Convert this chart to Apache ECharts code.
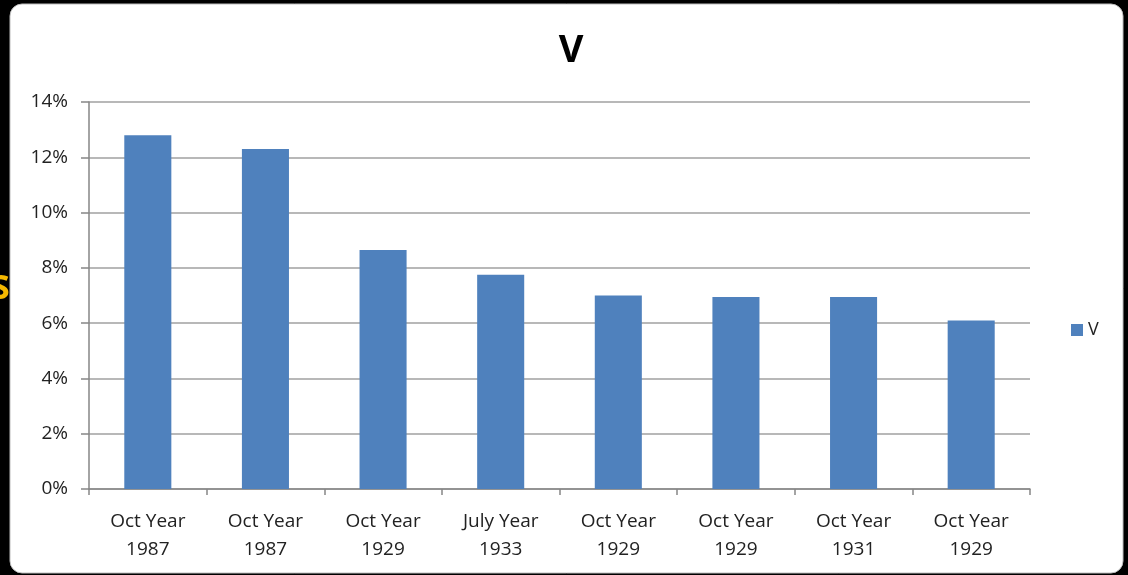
<!DOCTYPE html>
<html><head><meta charset="utf-8">
<script src="https://cdn.jsdelivr.net/npm/echarts@6/dist/echarts.min.js"></script>
<style>html,body{margin:0;padding:0;background:#000;}#c{width:1128px;height:575px;}</style>
</head><body><div id="c"></div>
<script>
const categories = ["Oct Year\n1987","Oct Year\n1987","Oct Year\n1929","July Year\n1933","Oct Year\n1929","Oct Year\n1929","Oct Year\n1931","Oct Year\n1929"];
const values = [12.8, 12.3, 8.65, 7.75, 7.0, 6.95, 6.95, 6.1];
const seriesName = "V";
const yTicks = [0,2,4,6,8,10,12,14];

const chart = echarts.init(document.getElementById('c'));
const font = '"Open Sans", sans-serif';
chart.setOption({
  backgroundColor: '#000',
  animation: false,
  graphic: [
    {type:'rect', shape:{x:10,y:4,width:1113,height:569,r:12}, style:{fill:'#fff', stroke:'#bdbdbd', lineWidth:1}, z:-10},
    {type:'text', left:-9, top:272, style:{text:'S', fill:'#f5b800', font:'bold 34px "Open Sans"'}, z:-5}
  ],
  title: {text: seriesName, left: 566, top: 27, textAlign:'center',
    textStyle:{fontFamily:font, fontSize:38, fontWeight:'bold', color:'#000'}},
  legend: {data:[seriesName], left:1066, top:316, itemWidth:12, itemHeight:12, itemGap:6,
    icon:'rect', textStyle:{fontFamily:font, fontSize:18, color:'#222'}},
  grid: {left:89, right:98, top:102, bottom:86, containLabel:false},
  xAxis: {type:'category', data:categories,
    axisLine:{lineStyle:{color:'#868686', width:1.5}},
    axisTick:{show:true, length:6, alignWithLabel:false, lineStyle:{color:'#868686', width:1.5}},
    axisLabel:{fontFamily:font, fontSize:19, color:'#222', margin:19, lineHeight:28, interval:0},
    splitLine:{show:false}},
  yAxis: {type:'value', min:0, max:14, interval:2,
    axisLine:{show:true, lineStyle:{color:'#868686', width:1.5}},
    axisTick:{show:true, length:8, lineStyle:{color:'#868686', width:1.5}},
    axisLabel:{fontFamily:font, fontSize:19, color:'#222', margin:21, formatter: v => yTicks.includes(v) ? v + '%' : ''},
    splitLine:{lineStyle:{color:'#a0a0a0', width:1.5}}},
  series: [{name:seriesName, type:'bar', data:values, barWidth:'40%',
    itemStyle:{color:'#4f81bd'}}]
});
</script></body></html>
